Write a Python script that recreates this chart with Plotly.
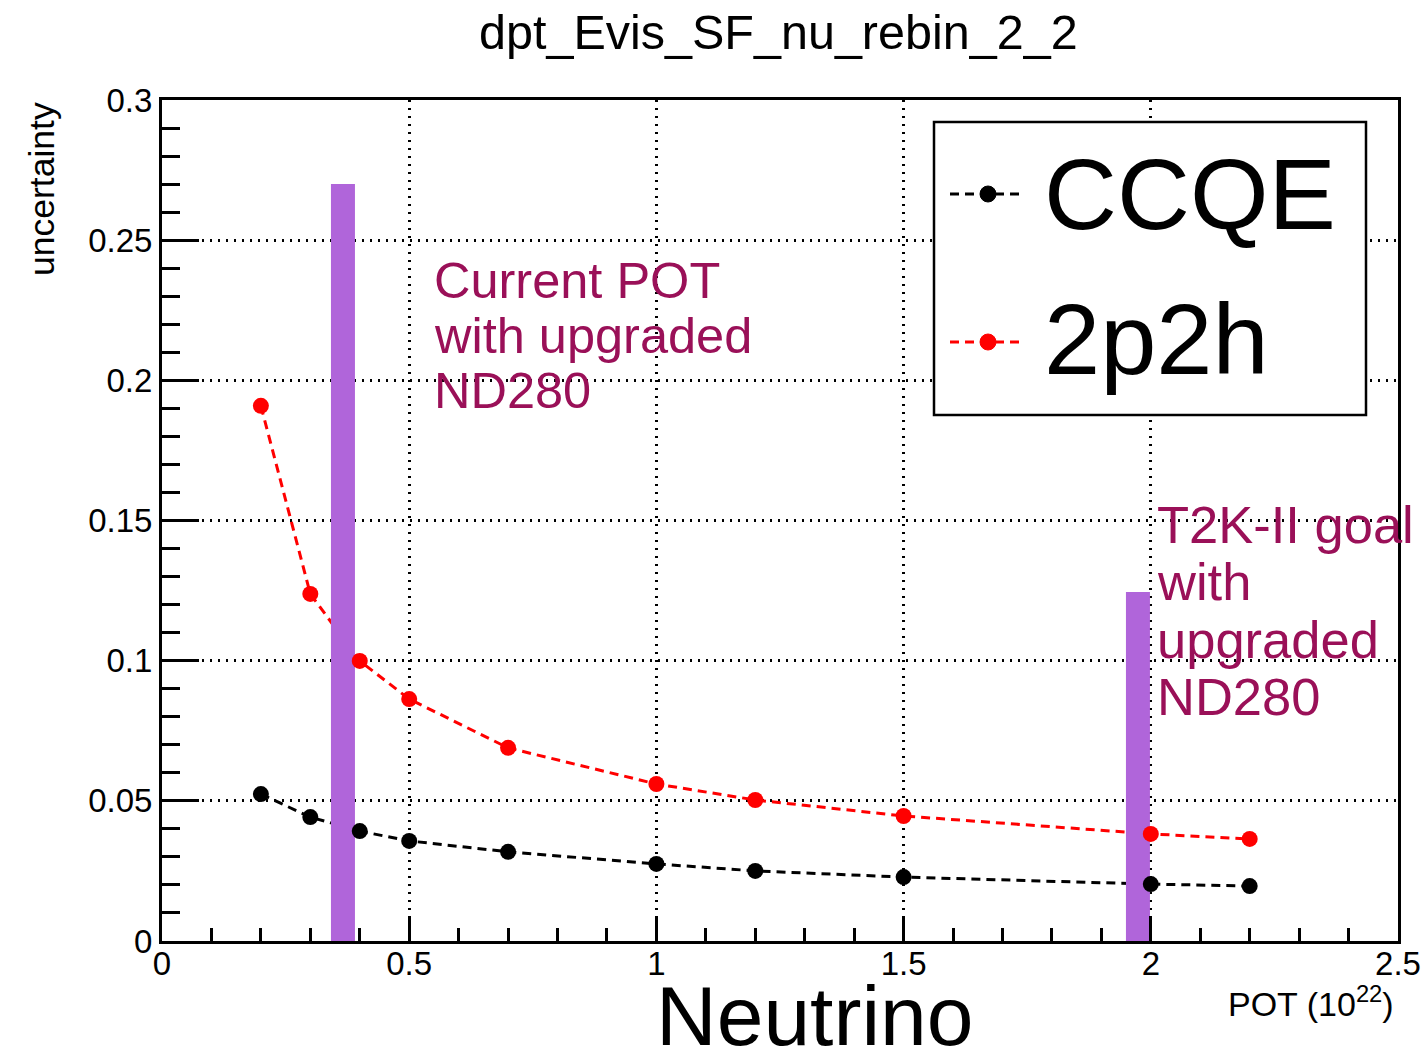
import plotly.graph_objects as go

# ---- data ----
pot = [0.2, 0.3, 0.4, 0.5, 0.7, 1.0, 1.2, 1.5, 2.0, 2.2]
ccqe = [0.0524, 0.0442, 0.0392, 0.0357, 0.0318, 0.0275, 0.0250, 0.0228, 0.0203, 0.0196]
two_p_two_h = [0.1909, 0.1238, 0.0999, 0.0863, 0.0689, 0.0560, 0.0503, 0.0446, 0.0382, 0.0364]

band_x = [0.366, 1.974]
band_top = [0.270, 0.1245]

x_ticks = [0, 0.5, 1, 1.5, 2, 2.5]
x_ticklabels = ["0", "0.5", "1", "1.5", "2", "2.5"]
y_ticks = [0, 0.05, 0.1, 0.15, 0.2, 0.25, 0.3]
y_ticklabels = ["0", "0.05", "0.1", "0.15", "0.2", "0.25", "0.3"]

FONT = "Liberation Sans, Arial, Helvetica, sans-serif"
MAGENTA = "#9A1058"
PURPLE = "#B065DA"

W, H = 1423, 1047
L, R, T, B = 162, 1398, 100, 941


def px2x(px):
    return (px - L) / (R - L)


def py2y(py):
    return (B - py) / (B - T)


fig = go.Figure()

dash = "9px,6px"
# dashed lines
fig.add_trace(go.Scatter(x=pot, y=ccqe, mode="lines",
                         line=dict(color="black", width=3, dash=dash),
                         showlegend=False, hoverinfo="skip"))
fig.add_trace(go.Scatter(x=pot, y=two_p_two_h, mode="lines",
                         line=dict(color="red", width=3, dash=dash),
                         showlegend=False, hoverinfo="skip"))
# purple bands
for bx, bt in zip(band_x, band_top):
    fig.add_trace(go.Scatter(x=[bx, bx], y=[-0.001, bt], mode="lines",
                             line=dict(color=PURPLE, width=24),
                             showlegend=False, hoverinfo="skip", cliponaxis=False))
# markers
fig.add_trace(go.Scatter(x=pot, y=ccqe, mode="markers", name="CCQE",
                         marker=dict(color="black", size=16),
                         showlegend=False))
fig.add_trace(go.Scatter(x=pot, y=two_p_two_h, mode="markers", name="2p2h",
                         marker=dict(color="red", size=16),
                         showlegend=False))

fig.update_layout(
    width=W, height=H,
    margin=dict(l=L, r=W - R, t=T, b=H - B, pad=0, autoexpand=False),
    paper_bgcolor="white", plot_bgcolor="white",
    font=dict(family=FONT, color="black"),
    showlegend=False,
)

fig.update_xaxes(
    range=[0, 2.5], tickvals=x_ticks, ticktext=x_ticklabels, automargin=False,
    ticks="inside", ticklen=25, tickwidth=2.5, tickcolor="black",
    ticklabelstandoff=-9,
    tickfont=dict(size=33, family=FONT, color="black"),
    showline=True, linecolor="black", linewidth=3, mirror=True,
    showgrid=True, gridcolor="black", gridwidth=2.5, griddash="2px,6px",
    zeroline=False,
    minor=dict(dtick=0.1, tick0=0, ticks="inside", ticklen=13, tickwidth=2.5,
               tickcolor="black", showgrid=False),
)
fig.update_yaxes(
    range=[0, 0.3], tickvals=y_ticks, ticktext=y_ticklabels, automargin=False,
    ticks="inside", ticklen=37, tickwidth=2.5, tickcolor="black",
    tickfont=dict(size=33, family=FONT, color="black"),
    showline=True, linecolor="black", linewidth=3, mirror=True,
    showgrid=True, gridcolor="black", gridwidth=2.5, griddash="2px,6px",
    zeroline=False,
    minor=dict(dtick=0.01, tick0=0, ticks="inside", ticklen=18, tickwidth=2.5,
               tickcolor="black", showgrid=False),
)

shapes = []
# legend box
shapes.append(dict(type="rect", xref="paper", yref="paper",
                   x0=px2x(934), x1=px2x(1366), y0=py2y(415), y1=py2y(122),
                   line=dict(color="black", width=2.5), fillcolor="white",
                   layer="above"))
for yy, col in [(194, "black"), (342, "red")]:
    shapes.append(dict(type="line", xref="paper", yref="paper",
                       x0=px2x(950), x1=px2x(1024), y0=py2y(yy), y1=py2y(yy),
                       line=dict(color=col, width=3, dash="9px,6px"), layer="above"))
    shapes.append(dict(type="circle", xref="paper", yref="paper",
                       x0=px2x(980), x1=px2x(996), y0=py2y(yy + 8), y1=py2y(yy - 8),
                       line=dict(color=col, width=1), fillcolor=col, layer="above"))
fig.update_layout(shapes=shapes)

ann = []
# title
ann.append(dict(text="dpt_Evis_SF_nu_rebin_2_2", xref="paper", yref="paper",
                x=px2x(778), y=py2y(32), xanchor="center", yanchor="middle",
                showarrow=False, font=dict(size=48.5, family=FONT, color="black")))
# legend text
ann.append(dict(text="CCQE", xref="paper", yref="paper",
                x=px2x(1042), y=py2y(194), xanchor="left", yanchor="middle",
                showarrow=False, font=dict(size=101, family=FONT, color="black")))
ann.append(dict(text="2p2h", xref="paper", yref="paper",
                x=px2x(1042), y=py2y(339), xanchor="left", yanchor="middle",
                showarrow=False, font=dict(size=101, family=FONT, color="black")))
# in-plot magenta text
for i, line in enumerate(["Current POT", "with upgraded", "ND280"]):
    ann.append(dict(text=line, xref="paper", yref="paper",
                    x=px2x(432), y=py2y(280 + 55 * i), xanchor="left", yanchor="middle",
                    showarrow=False, font=dict(size=50.5, family=FONT, color=MAGENTA)))
for i, line in enumerate(["T2K-II goal", "with", "upgraded", "ND280"]):
    ann.append(dict(text=line, xref="paper", yref="paper",
                    x=px2x(1155), y=py2y(524 + 57.5 * i), xanchor="left", yanchor="middle",
                    showarrow=False, font=dict(size=52.5, family=FONT, color=MAGENTA)))
# axis titles
ann.append(dict(text="uncertainty", xref="paper", yref="paper",
                x=px2x(42), y=py2y(100), xanchor="center", yanchor="top",
                textangle=-90, showarrow=False,
                font=dict(size=35.5, family=FONT, color="black")))
ann.append(dict(text="POT (10<sup>22</sup>)", xref="paper", yref="paper",
                x=px2x(1396), y=py2y(1001), xanchor="right", yanchor="middle",
                showarrow=False, font=dict(size=34, family=FONT, color="black")))
ann.append(dict(text="Neutrino", xref="paper", yref="paper",
                x=px2x(815), y=py2y(1016), xanchor="center", yanchor="middle",
                showarrow=False, font=dict(size=84, family=FONT, color="black")))
fig.update_layout(annotations=ann)

fig.write_html("out.html")
